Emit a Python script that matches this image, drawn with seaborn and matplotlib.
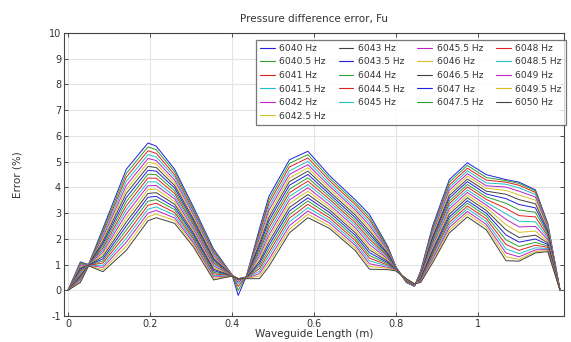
import pandas as pd
import matplotlib
matplotlib.use('Agg')
import matplotlib.pyplot as plt
from matplotlib.ticker import FuncFormatter
import seaborn as sns

# frequencies of the parametric sweep (legend entries)
freqs = [6040, 6040.5, 6041, 6041.5, 6042, 6042.5, 6043, 6043.5, 6044, 6044.5,
         6045, 6045.5, 6046, 6046.5, 6047, 6047.5, 6048, 6048.5, 6049, 6049.5, 6050]

length_m = [0.000, 0.030, 0.050, 0.085, 0.142, 0.195, 0.215, 0.260, 0.305, 0.355,
            0.400, 0.415, 0.435, 0.467, 0.490, 0.540, 0.585, 0.638, 0.700, 0.735,
            0.780, 0.800, 0.825, 0.845, 0.860, 0.889, 0.930, 0.974, 1.020, 1.068,
            1.100, 1.140, 1.170, 1.200]

# error (%) at each position, one value per frequency (6040 Hz ... 6050 Hz)
error_pct = [
    [0.00] * 21,
    [1.10, 1.06, 1.02, 0.98, 0.94, 0.90, 0.86, 0.82, 0.78, 0.74, 0.70, 0.66, 0.62, 0.58, 0.54, 0.50, 0.46, 0.42, 0.38, 0.34, 0.30],
    [1.00, 1.00, 0.99, 0.99, 0.99, 0.99, 0.99, 0.98, 0.98, 0.98, 0.98, 0.97, 0.97, 0.97, 0.97, 0.96, 0.96, 0.96, 0.96, 0.95, 0.95],
    [2.40, 2.32, 2.23, 2.15, 2.06, 1.98, 1.90, 1.81, 1.73, 1.64, 1.56, 1.48, 1.39, 1.31, 1.22, 1.14, 1.06, 0.97, 0.89, 0.80, 0.72],
    [4.70, 4.54, 4.39, 4.23, 4.07, 3.91, 3.76, 3.60, 3.44, 3.28, 3.13, 2.97, 2.81, 2.65, 2.50, 2.34, 2.18, 2.02, 1.87, 1.71, 1.55],
    [5.72, 5.57, 5.42, 5.27, 5.12, 4.97, 4.81, 4.66, 4.51, 4.36, 4.21, 4.06, 3.91, 3.76, 3.61, 3.46, 3.30, 3.15, 3.00, 2.85, 2.70],
    [5.60, 5.46, 5.32, 5.18, 5.04, 4.91, 4.77, 4.63, 4.49, 4.35, 4.21, 4.07, 3.93, 3.79, 3.65, 3.52, 3.38, 3.24, 3.10, 2.96, 2.82],
    [4.70, 4.60, 4.49, 4.39, 4.28, 4.18, 4.07, 3.97, 3.86, 3.76, 3.65, 3.55, 3.44, 3.34, 3.23, 3.13, 3.02, 2.92, 2.81, 2.71, 2.60],
    [3.26, 3.18, 3.10, 3.03, 2.95, 2.87, 2.79, 2.71, 2.64, 2.56, 2.48, 2.40, 2.32, 2.25, 2.17, 2.09, 2.01, 1.93, 1.86, 1.78, 1.70],
    [1.60, 1.54, 1.48, 1.42, 1.36, 1.30, 1.24, 1.18, 1.12, 1.06, 1.00, 0.94, 0.88, 0.82, 0.76, 0.70, 0.64, 0.58, 0.52, 0.46, 0.40],
    [0.60, 0.60, 0.60, 0.59, 0.59, 0.59, 0.58, 0.58, 0.58, 0.58, 0.57, 0.57, 0.57, 0.56, 0.56, 0.56, 0.56, 0.55, 0.55, 0.55, 0.55],
    [-0.20, 0.00, 0.15, 0.25, 0.32, 0.38, 0.40, 0.42, 0.43, 0.44, 0.45, 0.45, 0.45, 0.45, 0.45, 0.45, 0.45, 0.45, 0.45, 0.45, 0.45],
    [0.55, 0.55, 0.54, 0.54, 0.53, 0.53, 0.52, 0.52, 0.51, 0.51, 0.50, 0.50, 0.49, 0.49, 0.48, 0.48, 0.47, 0.47, 0.46, 0.46, 0.45],
    [2.40, 2.30, 2.21, 2.11, 2.01, 1.91, 1.82, 1.72, 1.62, 1.52, 1.43, 1.33, 1.23, 1.13, 1.04, 0.94, 0.84, 0.74, 0.65, 0.55, 0.45],
    [3.65, 3.51, 3.38, 3.24, 3.11, 2.97, 2.83, 2.70, 2.56, 2.43, 2.29, 2.15, 2.02, 1.88, 1.75, 1.61, 1.47, 1.34, 1.20, 1.07, 0.93],
    [5.07, 4.93, 4.79, 4.64, 4.50, 4.36, 4.22, 4.08, 3.93, 3.79, 3.65, 3.51, 3.37, 3.22, 3.08, 2.94, 2.80, 2.66, 2.51, 2.37, 2.23],
    [5.40, 5.27, 5.14, 5.01, 4.88, 4.76, 4.63, 4.50, 4.37, 4.24, 4.11, 3.98, 3.85, 3.72, 3.59, 3.47, 3.34, 3.21, 3.08, 2.95, 2.82],
    [4.45, 4.35, 4.25, 4.14, 4.04, 3.94, 3.83, 3.73, 3.63, 3.53, 3.43, 3.32, 3.22, 3.12, 3.02, 2.91, 2.81, 2.71, 2.61, 2.50, 2.40],
    [3.52, 3.42, 3.33, 3.22, 3.13, 3.03, 2.93, 2.83, 2.73, 2.63, 2.54, 2.44, 2.34, 2.24, 2.14, 2.04, 1.94, 1.84, 1.75, 1.65, 1.55],
    [2.95, 2.84, 2.74, 2.63, 2.52, 2.42, 2.31, 2.20, 2.10, 1.99, 1.89, 1.78, 1.67, 1.57, 1.46, 1.35, 1.25, 1.14, 1.03, 0.93, 0.82],
    [1.70, 1.66, 1.61, 1.57, 1.52, 1.48, 1.43, 1.39, 1.34, 1.30, 1.25, 1.21, 1.16, 1.12, 1.07, 1.03, 0.98, 0.94, 0.89, 0.85, 0.80],
    [0.90, 0.89, 0.89, 0.88, 0.87, 0.86, 0.86, 0.85, 0.84, 0.83, 0.83, 0.82, 0.81, 0.80, 0.80, 0.79, 0.78, 0.77, 0.77, 0.76, 0.75],
    [0.30, 0.31, 0.32, 0.32, 0.33, 0.34, 0.35, 0.35, 0.36, 0.37, 0.38, 0.38, 0.39, 0.40, 0.41, 0.41, 0.42, 0.43, 0.44, 0.44, 0.45],
    [0.15, 0.16, 0.16, 0.17, 0.17, 0.18, 0.18, 0.19, 0.19, 0.20, 0.20, 0.21, 0.21, 0.22, 0.22, 0.23, 0.23, 0.24, 0.24, 0.25, 0.25],
    [0.75, 0.73, 0.71, 0.68, 0.66, 0.64, 0.62, 0.59, 0.57, 0.55, 0.53, 0.50, 0.48, 0.46, 0.44, 0.41, 0.39, 0.37, 0.35, 0.32, 0.30],
    [2.49, 2.42, 2.35, 2.28, 2.20, 2.13, 2.06, 1.99, 1.92, 1.85, 1.78, 1.70, 1.63, 1.56, 1.49, 1.42, 1.35, 1.27, 1.20, 1.13, 1.06],
    [4.30, 4.20, 4.09, 3.99, 3.89, 3.78, 3.68, 3.58, 3.47, 3.37, 3.27, 3.16, 3.06, 2.96, 2.85, 2.75, 2.64, 2.54, 2.44, 2.33, 2.23],
    [4.95, 4.85, 4.74, 4.64, 4.53, 4.43, 4.32, 4.22, 4.11, 4.01, 3.90, 3.80, 3.69, 3.59, 3.48, 3.38, 3.27, 3.17, 3.06, 2.96, 2.85],
    [4.49, 4.38, 4.28, 4.17, 4.06, 3.96, 3.85, 3.74, 3.63, 3.53, 3.42, 3.31, 3.21, 3.10, 2.99, 2.89, 2.78, 2.67, 2.56, 2.46, 2.35],
    [4.30, 4.26, 4.20, 4.12, 4.01, 3.88, 3.73, 3.56, 3.38, 3.18, 2.97, 2.76, 2.55, 2.35, 2.15, 1.96, 1.78, 1.61, 1.45, 1.30, 1.15],
    [4.20, 4.15, 4.08, 3.98, 3.85, 3.70, 3.52, 3.33, 3.12, 2.90, 2.68, 2.46, 2.25, 2.05, 1.87, 1.70, 1.55, 1.42, 1.30, 1.20, 1.13],
    [3.90, 3.86, 3.80, 3.72, 3.62, 3.50, 3.36, 3.20, 3.03, 2.85, 2.66, 2.48, 2.30, 2.14, 1.99, 1.86, 1.75, 1.65, 1.57, 1.50, 1.45],
    [2.60, 2.57, 2.53, 2.49, 2.44, 2.38, 2.32, 2.25, 2.18, 2.11, 2.04, 1.97, 1.90, 1.84, 1.78, 1.72, 1.67, 1.62, 1.58, 1.54, 1.50],
    [0.00] * 21,
]

# COMSOL style colour cycle
cycle = ['#1f1fe0', '#2ca02c', '#e02020', '#20c0c8', '#c020c8', '#d8c020', '#404040']

# long form table for seaborn
recs = []
for i, f in enumerate(freqs):
    for j, x in enumerate(length_m):
        recs.append({'x': x, 'err': error_pct[j][i], 'freq': '%g Hz' % f})
df = pd.DataFrame(recs)
labels = ['%g Hz' % f for f in freqs]
pal = {lab: cycle[k % 7] for k, lab in enumerate(labels)}

sns.set_style('ticks')
plt.rcParams['font.family'] = ['DejaVu Sans']
plt.rcParams['axes.unicode_minus'] = False

fig = plt.figure(figsize=(5.71, 3.42), dpi=100)
ax = fig.add_axes([0.112, 0.076, 0.876, 0.828])

sns.lineplot(data=df, x='x', y='err', hue='freq', hue_order=labels, palette=pal,
             estimator=None, sort=False, linewidth=0.7, ax=ax)

ax.set_xlim(-0.01, 1.21)
ax.set_ylim(-1, 10)
ax.set_yticks(range(-1, 11))
ax.set_xticks([0, 0.2, 0.4, 0.6, 0.8, 1.0])
ax.xaxis.set_major_formatter(FuncFormatter(lambda v, p: '%g' % round(v, 2)))
ax.grid(True, color='#e4e4e4', linewidth=0.8)
ax.set_axisbelow(True)
ax.tick_params(direction='in', top=True, right=True, length=3, width=0.6,
               labelsize=7, colors='#333333', labelcolor='#333333', pad=2)
for s in ax.spines.values():
    s.set_color('#444444')
    s.set_linewidth(0.8)

ax.set_title('Pressure difference error, Fu', fontsize=7.5, color='#333333', pad=8)
ax.set_xlabel('Waveguide Length (m)', fontsize=7.5, color='#333333', labelpad=0)
ax.set_ylabel('Error (%)', fontsize=7.5, color='#333333', labelpad=19)

leg = ax.legend(ncol=4, loc='upper right', bbox_to_anchor=(1.003, 0.976),
                fontsize=6.6, frameon=True, fancybox=False, borderaxespad=0,
                handlelength=1.6, handletextpad=0.5, columnspacing=1.4,
                labelspacing=0.5, borderpad=0.45)
leg.get_frame().set_edgecolor('#555555')
leg.get_frame().set_linewidth(0.9)
for t in leg.get_texts():
    t.set_color('#333333')
for h in leg.get_lines():
    h.set_linewidth(0.8)

fig.savefig('out.png', dpi=100)
